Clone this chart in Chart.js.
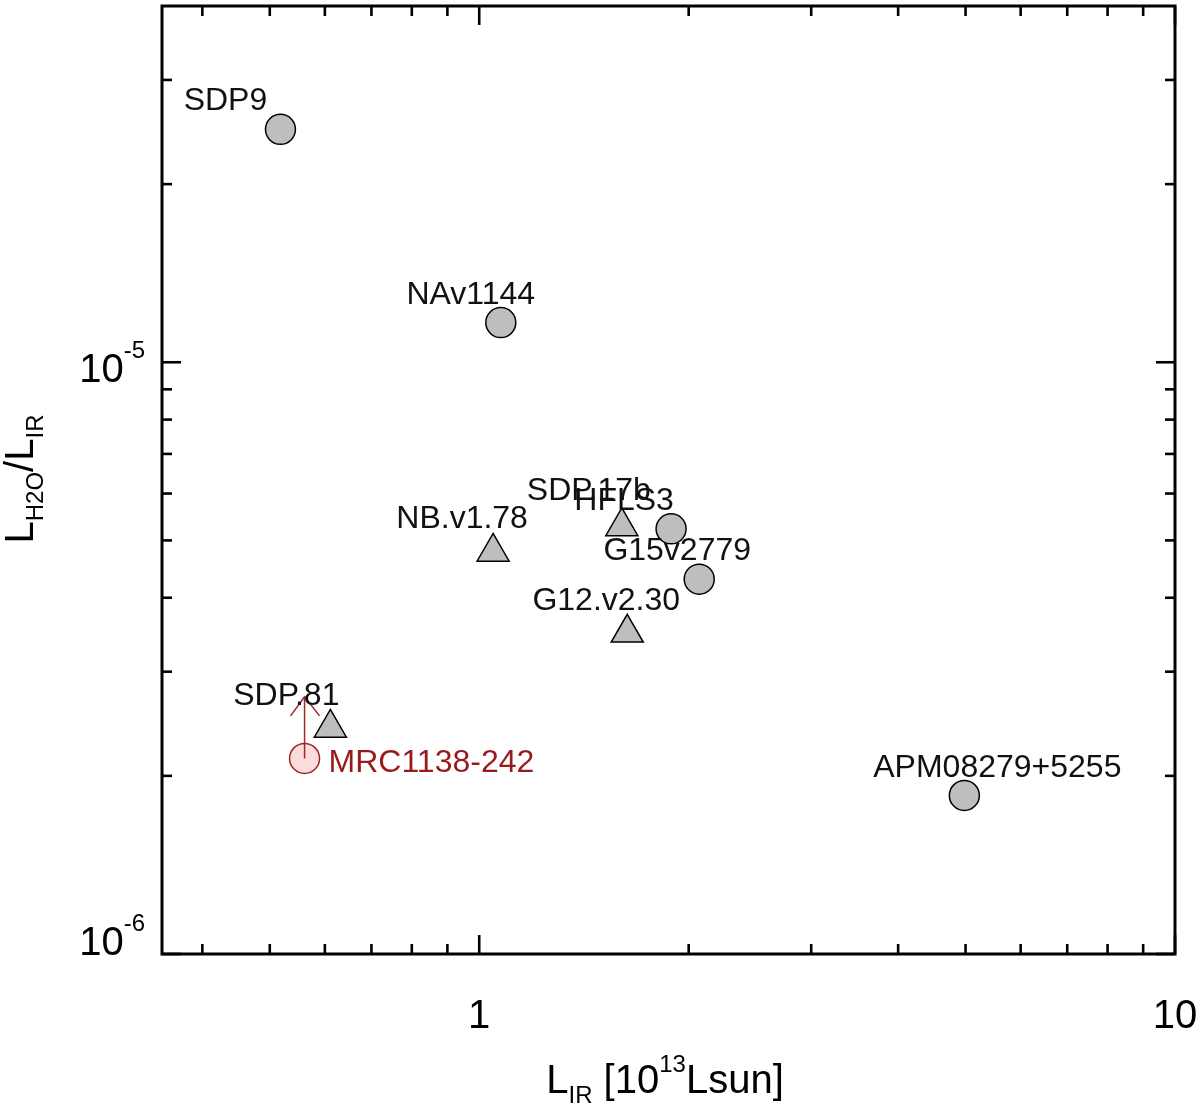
<!DOCTYPE html>
<html><head><meta charset="utf-8">
<script src="https://cdn.jsdelivr.net/npm/chart.js@4.4.0/dist/chart.umd.min.js"></script>
<style>html,body{margin:0;padding:0;background:#fff;}canvas{display:block;}</style>
</head><body>
<canvas id="c" width="1200" height="1107"></canvas>
<script>
// ---- data ----
const circleNames = ['SDP9', 'NAv1144', 'HFLS3', 'G15v2779', 'APM08279+5255'];
const circleLIR   = [0.518, 1.074, 1.887, 2.071, 4.98];
const circleRatio = [2.475e-5, 1.167e-5, 5.23e-6, 4.30e-6, 1.853e-6];

const triNames = ['NB.v1.78', 'SDP.17b', 'G12.v2.30', 'SDP.81'];
const triLIR   = [1.047, 1.603, 1.632, 0.611];
const triRatio = [4.78e-6, 5.28e-6, 3.49e-6, 2.41e-6];

const mrcNames = ['MRC1138-242'];
const mrcLIR   = [0.561];
const mrcRatio = [2.14e-6];
const mrcLimitTip = [2.72e-6];

const xMajorTicks = [1, 10];
const xMinorTicks = [0.4, 0.5, 0.6, 0.7, 0.8, 0.9, 2, 3, 4, 5, 6, 7, 8, 9];
const xTickLabels = ['1', '10'];
const yMajorTicks = [1e-6, 1e-5];
const yMinorTicks = [2e-6, 3e-6, 4e-6, 5e-6, 6e-6, 7e-6, 8e-6, 9e-6, 2e-5, 3e-5];
const yTickBase = ['10', '10'];
const yTickExp  = ['-6', '-5'];

// ---- label placement (pixel offsets from the marker; style only) ----
const labelOffsets = {
  'SDP9': [-55, -19, 'center'],
  'NAv1144': [-30, -19, 'center'],
  'HFLS3': [-47, -19, 'center'],
  'G15v2779': [-22, -19, 'center'],
  'APM08279+5255': [33, -18, 'center'],
  'NB.v1.78': [-31, -24, 'center'],
  'SDP.17b': [-33, -26, 'center'],
  'G12.v2.30': [-21, -23, 'center'],
  'SDP.81': [-44, -23, 'center'],
  'MRC1138-242': [24, 14, 'left']
};

const FONT = '"Liberation Sans", Arial, Helvetica, sans-serif';
const DARKRED = '#a32626';
const LABELRED = '#961c1c';

function richWidth(ctx, segs) {
  let w = 0;
  for (const s of segs) { ctx.font = s.size + 'px ' + FONT; w += ctx.measureText(s.t).width; }
  return w;
}
function drawRich(ctx, segs, x, y, align) {
  const w = richWidth(ctx, segs);
  let cx = align === 'center' ? x - w / 2 : align === 'right' ? x - w : x;
  ctx.textAlign = 'left';
  ctx.textBaseline = 'alphabetic';
  for (const s of segs) {
    ctx.font = s.size + 'px ' + FONT;
    ctx.fillText(s.t, cx, y + (s.dy || 0));
    cx += ctx.measureText(s.t).width;
  }
}

const decorPlugin = {
  id: 'decor',
  afterDatasetsDraw(chart) {
    const { ctx, chartArea: a, scales: { x, y } } = chart;
    ctx.save();
    // arrow head for the lower limit
    const tipX = x.getPixelForValue(mrcLIR[0]);
    const tipY = y.getPixelForValue(mrcLimitTip[0]);
    ctx.strokeStyle = DARKRED; ctx.lineWidth = 1.5;
    ctx.beginPath();
    ctx.moveTo(tipX - 14, tipY + 19); ctx.lineTo(tipX, tipY); ctx.lineTo(tipX + 15, tipY + 19);
    ctx.stroke();

    // data labels
    const groups = [[0, circleNames], [1, triNames], [2, mrcNames]];
    for (const [di, names] of groups) {
      const meta = chart.getDatasetMeta(di);
      names.forEach((n, j) => {
        const el = meta.data[j];
        const [dx, dy, al] = labelOffsets[n];
        ctx.fillStyle = di === 2 ? LABELRED : '#111';
        ctx.font = '32px ' + FONT;
        ctx.textAlign = al;
        ctx.textBaseline = 'alphabetic';
        ctx.fillText(n, el.x + dx, el.y + dy);
      });
    }

    // axes box
    ctx.strokeStyle = '#000';
    ctx.lineWidth = 3;
    ctx.strokeRect(a.left, a.top, a.right - a.left, a.bottom - a.top);
    ctx.lineWidth = 2.6;
    const seg = (x1, y1, x2, y2) => { ctx.beginPath(); ctx.moveTo(x1, y1); ctx.lineTo(x2, y2); ctx.stroke(); };
    const xt = (v, len) => { const p = x.getPixelForValue(v); seg(p, a.bottom, p, a.bottom - len); seg(p, a.top, p, a.top + len); };
    const yt = (v, len) => { const p = y.getPixelForValue(v); seg(a.left, p, a.left + len, p); seg(a.right, p, a.right - len, p); };
    xMajorTicks.forEach(v => xt(v, 19));
    xMinorTicks.forEach(v => xt(v, 10));
    yMajorTicks.forEach(v => yt(v, 19));
    yMinorTicks.forEach(v => yt(v, 10));

    // tick labels
    ctx.fillStyle = '#000';
    xMajorTicks.forEach((v, i) => {
      drawRich(ctx, [{ t: xTickLabels[i], size: 40 }], x.getPixelForValue(v), a.bottom + 74, 'center');
    });
    yMajorTicks.forEach((v, i) => {
      const p = y.getPixelForValue(v);
      const base = Math.min(p + 20, a.bottom + 1);
      drawRich(ctx, [{ t: yTickBase[i], size: 40 }, { t: yTickExp[i], size: 24, dy: -24 }], a.left - 17, base, 'right');
    });

    // x title
    drawRich(ctx, [
      { t: 'L', size: 40 }, { t: 'IR', size: 24, dy: 10 }, { t: ' [10', size: 40 },
      { t: '13', size: 24, dy: -21 }, { t: 'Lsun]', size: 40 }
    ], 665, 1093, 'center');

    // y title
    ctx.save();
    ctx.translate(33, 479);
    ctx.rotate(-Math.PI / 2);
    drawRich(ctx, [
      { t: 'L', size: 40 }, { t: 'H2O', size: 24, dy: 10 }, { t: '/', size: 40 },
      { t: 'L', size: 40 }, { t: 'IR', size: 24, dy: 10 }
    ], 0, 0, 'center');
    ctx.restore();
    ctx.restore();
  }
};

function build() {
  const circleData = circleLIR.map((v, i) => ({ x: v, y: circleRatio[i] }));
  const triData = triLIR.map((v, i) => ({ x: v, y: triRatio[i] }));
  const mrcData = mrcLIR.map((v, i) => ({ x: v, y: mrcRatio[i] }));
  const arrowData = [{ x: mrcLIR[0], y: mrcRatio[0] }, { x: mrcLIR[0], y: mrcLimitTip[0] }];

  new Chart(document.getElementById('c'), {
    type: 'scatter',
    data: {
      datasets: [
        { data: circleData, pointStyle: 'circle', pointRadius: 15, backgroundColor: '#bebebe', borderColor: '#000', borderWidth: 1.5, order: 3 },
        { data: triData, pointStyle: 'triangle', pointRadius: 18.5, backgroundColor: '#bebebe', borderColor: '#000', borderWidth: 1.5, order: 3 },
        { data: mrcData, pointStyle: 'circle', pointRadius: 15, backgroundColor: '#fbdcdc', borderColor: DARKRED, borderWidth: 1.5, order: 2 },
        { data: arrowData, showLine: true, borderColor: DARKRED, borderWidth: 1.5, pointRadius: 0, order: 1 }
      ]
    },
    options: {
      responsive: false,
      animation: false,
      devicePixelRatio: 1,
      events: [],
      layout: { autoPadding: false, padding: { left: 162, right: 25, top: 6, bottom: 153 } },
      plugins: { legend: { display: false }, tooltip: { enabled: false } },
      scales: {
        x: { type: 'logarithmic', min: 0.35, max: 10, display: false },
        y: { type: 'logarithmic', min: 1e-6, max: 4e-5, display: false }
      }
    },
    plugins: [decorPlugin]
  });
}

if (document.fonts && document.fonts.load) {
  Promise.all([document.fonts.load('40px "Liberation Sans"'), document.fonts.load('24px "Liberation Sans"')])
    .then(build, build);
} else { build(); }
</script>
</body></html>
